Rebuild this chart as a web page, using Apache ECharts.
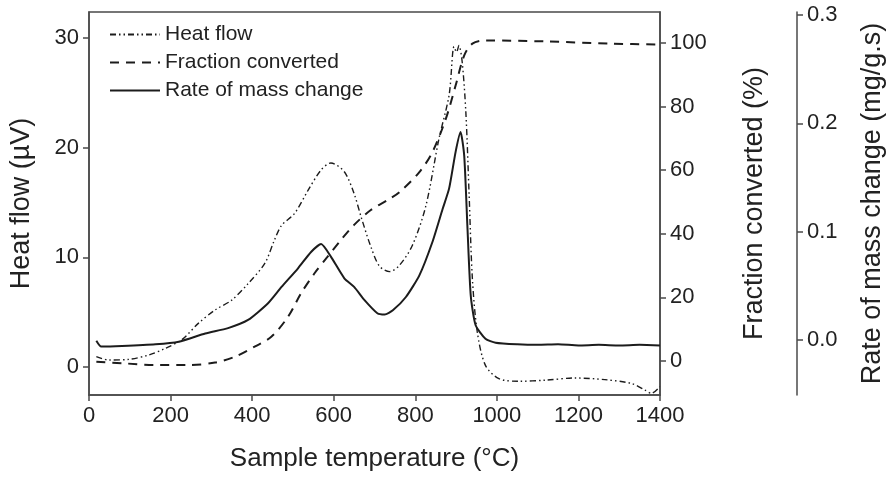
<!DOCTYPE html>
<html>
<head>
<meta charset="utf-8">
<script src="https://cdn.jsdelivr.net/npm/echarts@6/dist/echarts.min.js"></script>
<style>
    html, body { margin: 0; padding: 0; background: #ffffff; }
    #chart { width: 894px; height: 477px; }
</style>
</head>
<body>
<div id="chart"></div>
<script>
const heatTemp = [18, 49, 98, 146, 187, 228, 268, 309, 350, 390, 431, 455, 472, 504, 537, 569, 593, 626, 650, 667, 691, 712, 737, 761, 793, 826, 858, 883, 895, 901, 907, 915, 924, 932, 940, 952, 972, 1005, 1054, 1119, 1192, 1265, 1330, 1363, 1379, 1399];
const heatFlow = [0.94, 0.64, 0.70, 1.09, 1.7, 2.5, 3.98, 5.2, 6.1, 7.6, 9.45, 11.6, 12.9, 14.0, 16.1, 17.96, 18.6, 17.8, 15.8, 13.7, 10.97, 9.2, 8.7, 9.27, 11.1, 14.7, 20.8, 24.8, 29.2, 28.7, 29.3, 27.8, 23.2, 15.7, 8.05, 3.2, 0.15, -1.06, -1.3, -1.2, -1.0, -1.15, -1.5, -2.1, -2.4, -1.8];

const fracTemp = [18, 81, 163, 244, 309, 358, 406, 447, 488, 520, 553, 585, 618, 650, 691, 732, 761, 810, 842, 875, 899, 920, 940, 972, 1119, 1281, 1400];
const fracValue = [-0.2, -0.7, -1.26, -1.26, -0.5, 1.35, 4.5, 7.6, 13.9, 21.3, 27.6, 32.8, 38.1, 42.8, 47.5, 50.6, 53.1, 59.4, 65.7, 76.2, 86.7, 96.1, 99.8, 100.8, 100.5, 99.8, 99.5];

const rateTemp = [18, 30, 81, 163, 220, 285, 341, 390, 439, 472, 512, 545, 569, 593, 626, 650, 675, 707, 725, 745, 777, 810, 842, 867, 883, 899, 911, 920, 928, 936, 948, 972, 997, 1050, 1100, 1150, 1200, 1250, 1300, 1350, 1400];
const rateValue = [-0.0006, -0.006, -0.0055, -0.004, -0.0016, 0.006, 0.011, 0.0185, 0.034, 0.049, 0.066, 0.0815, 0.0886, 0.077, 0.057, 0.049, 0.037, 0.0247, 0.0235, 0.0274, 0.0397, 0.0597, 0.0905, 0.121, 0.140, 0.174, 0.192, 0.170, 0.103, 0.041, 0.0136, 0.0012, -0.0025, -0.004, -0.0045, -0.004, -0.005, -0.0045, -0.005, -0.0045, -0.005];

const heatTicks = [0, 10, 20, 30];
const fracTicks = [0, 20, 40, 60, 80, 100];
const rateTicks = [0, 0.1, 0.2, 0.3];

const FONT = "Liberation Sans, Arial, sans-serif";
const AXIS_COLOR = "#4a4a4a";
const LINE_COLOR = "#1c1c1c";

function pairs(xs, ys) {
    return xs.map((x, i) => [x, ys[i]]);
}

function valueAxis(name, min, max, ticks, extra) {
    return Object.assign({
        type: "value",
        name: name,
        nameLocation: "middle",
        nameTextStyle: { fontSize: 27, color: "#222", fontFamily: FONT },
        min: min,
        max: max,
        axisLine: { show: true, onZero: false, lineStyle: { color: AXIS_COLOR, width: 1.5 } },
        axisTick: { show: true, length: 6, customValues: ticks, lineStyle: { color: AXIS_COLOR, width: 1.5 } },
        axisLabel: { customValues: ticks, fontSize: 22, color: "#222", fontFamily: FONT, margin: 10 },
        splitLine: { show: false }
    }, extra);
}

const chart = echarts.init(document.getElementById("chart"), null, { renderer: "canvas" });

chart.setOption({
    animation: false,
    textStyle: { fontFamily: FONT },
    grid: {
        left: 88,
        right: 232,
        top: 12,
        bottom: 82,
        show: true,
        borderColor: AXIS_COLOR,
        borderWidth: 1.5
    },
    legend: {
        orient: "vertical",
        left: 104,
        top: 19,
        itemWidth: 50,
        itemHeight: 14,
        itemGap: 7,
        itemStyle: { color: "rgba(0,0,0,0)", borderWidth: 0, opacity: 0 },
        textStyle: { fontSize: 21, color: "#222", fontFamily: FONT },
        data: ["Heat flow", "Fraction converted", "Rate of mass change"]
    },
    xAxis: {
        type: "value",
        name: "Sample temperature (°C)",
        nameLocation: "middle",
        nameGap: 51,
        nameTextStyle: { fontSize: 26, color: "#222", fontFamily: FONT },
        min: 0,
        max: 1400,
        interval: 200,
        axisLine: { show: true, onZero: false, lineStyle: { color: AXIS_COLOR, width: 1.5 } },
        axisTick: { show: true, length: 6, lineStyle: { color: AXIS_COLOR, width: 1.5 } },
        axisLabel: { fontSize: 22, color: "#222", fontFamily: FONT, margin: 10, formatter: v => String(v) },
        splitLine: { show: false }
    },
    yAxis: [
        valueAxis("Heat flow (µV)", -2.55, 32.36, heatTicks, {
            position: "left",
            nameGap: 54
        }),
        valueAxis("Fraction converted (%)", -10.69, 109.75, fracTicks, {
            position: "right",
            nameGap: 81
        }),
        valueAxis("Rate of mass change (mg/g.s)", -0.0508, 0.3029, rateTicks, {
            position: "right",
            offset: 137,
            nameGap: 62,
            axisLabel: {
                customValues: rateTicks,
                fontSize: 22,
                color: "#222",
                fontFamily: FONT,
                margin: 10,
                formatter: v => v.toFixed(1)
            }
        })
    ],
    series: [
        {
            name: "Heat flow",
            type: "line",
            yAxisIndex: 0,
            symbol: "none",
            smooth: 0.3,
            lineStyle: { color: LINE_COLOR, width: 1.4, type: [6, 3, 1.5, 3, 1.5, 3] },
            itemStyle: { color: LINE_COLOR },
            data: pairs(heatTemp, heatFlow)
        },
        {
            name: "Fraction converted",
            type: "line",
            yAxisIndex: 1,
            symbol: "none",
            smooth: 0.3,
            lineStyle: { color: LINE_COLOR, width: 2, type: [9, 7] },
            itemStyle: { color: LINE_COLOR },
            data: pairs(fracTemp, fracValue)
        },
        {
            name: "Rate of mass change",
            type: "line",
            yAxisIndex: 2,
            symbol: "none",
            smooth: 0.2,
            lineStyle: { color: LINE_COLOR, width: 2 },
            itemStyle: { color: LINE_COLOR },
            data: pairs(rateTemp, rateValue)
        }
    ]
});
</script>
</body>
</html>
